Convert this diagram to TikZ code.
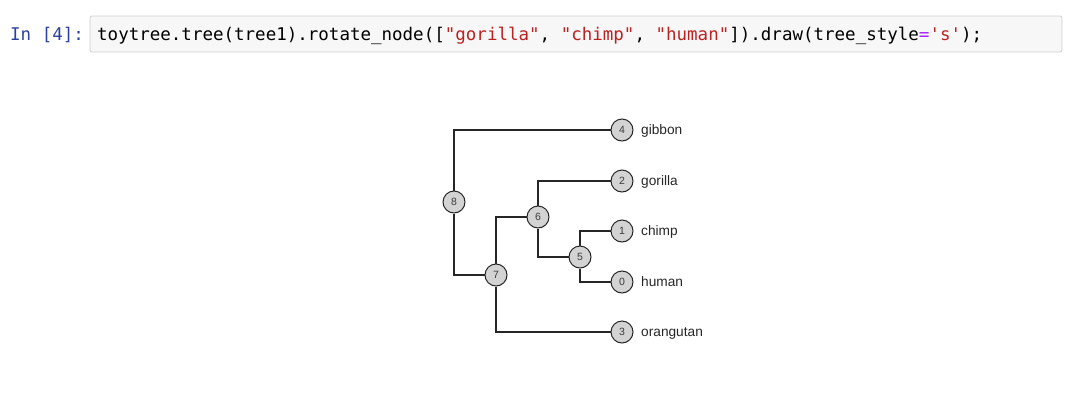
\documentclass[tikz,border=0pt]{standalone}
\usepackage{fontspec}
\setmainfont{Liberation Sans}
\newfontfamily\codefont{DejaVu Sans Mono}
\usetikzlibrary{calc}
\definecolor{edgec}{HTML}{262626}
\definecolor{nodefill}{HTML}{D3D3D3}
\definecolor{promptblue}{HTML}{303F9F}
\definecolor{strred}{HTML}{BA2121}
\definecolor{oppurple}{HTML}{AA22FF}
\definecolor{cellbg}{HTML}{F7F7F7}
\definecolor{cellborder}{HTML}{CFCFCF}
\tikzset{
  treenode/.style={circle, draw=edgec, line width=1pt, fill=nodefill, minimum size=22pt, inner sep=0pt, font=\fontsize{10.5}{11}\selectfont, text=edgec!90!white},
  tiplabel/.style={anchor=base west, inner sep=0pt, font=\fontsize{13.7}{15}\selectfont, text=edgec},
  edge/.style={draw=edgec, line width=2.6pt},
  cellbox/.style={draw=cellborder, fill=cellbg, line width=0.8pt, rounded corners=2pt, minimum width=972pt, minimum height=36pt, inner sep=0pt},
  codetext/.style={anchor=base west, inner sep=0pt, font=\codefont\fontsize{17.5}{20}\selectfont}
}
\begin{document}
\begin{tikzpicture}[x=1pt,y=-1pt]
\useasboundingbox (0,0) rectangle (1080,400);
% code cell
\node[cellbox] (cell) at (576,34) {};
\node[codetext, text=promptblue] (prompt) at (10,40) {In [4]:};
\node[codetext] (code) at (97,40) {toytree.tree(tree1).rotate\_node([\textcolor{strred}{"gorilla"}, \textcolor{strred}{"chimp"}, \textcolor{strred}{"human"}]).draw(tree\_style\textcolor{oppurple}{=}\textcolor{strred}{'s'});};
% tree nodes
\node[treenode] (n4) at (622,130) {4};
\node[treenode] (n2) at (622,181) {2};
\node[treenode] (n1) at (622,231) {1};
\node[treenode] (n0) at (622,282) {0};
\node[treenode] (n3) at (622,332) {3};
\node[treenode] (n8) at (454,202) {8};
\node[treenode] (n6) at (538,217) {6};
\node[treenode] (n5) at (580,257) {5};
\node[treenode] (n7) at (496,275) {7};
% edges
\draw[edge] (n8) |- (n4);
\draw[edge] (n8) |- (n7);
\draw[edge] (n7) |- (n6);
\draw[edge] (n7) |- (n3);
\draw[edge] (n6) |- (n2);
\draw[edge] (n6) |- (n5);
\draw[edge] (n5) |- (n1);
\draw[edge] (n5) |- (n0);
% tip labels
\node[tiplabel] (l4) at (641,134.7) {gibbon};
\node[tiplabel] (l2) at (641,185.7) {gorilla};
\node[tiplabel] (l1) at (641,235.7) {chimp};
\node[tiplabel] (l0) at (641,286.7) {human};
\node[tiplabel] (l3) at (641,336.7) {orangutan};
\end{tikzpicture}
\end{document}
